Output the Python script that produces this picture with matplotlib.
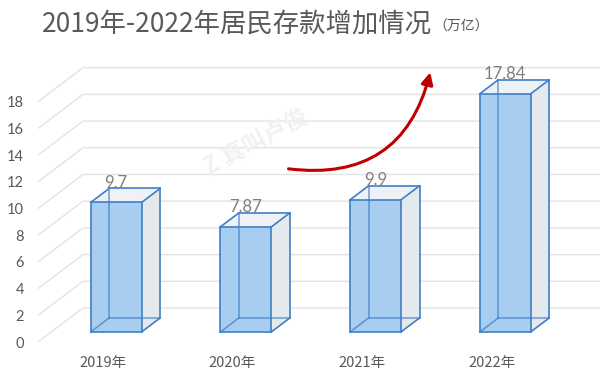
import matplotlib.pyplot as plt
from matplotlib.patches import Polygon, FancyArrowPatch

years = ['2019年', '2020年', '2021年', '2022年']
values = [9.7, 7.87, 9.9, 17.84]
value_labels = ['9.7', '7.87', '9.9', '17.84']
yticks = list(range(0, 20, 2))

# red trend arrow (data coords) and watermark position
arrow_start = (1.41, 13.0)
arrow_end = (2.53, 20.4)
mark_pos = (1.18, 15.0)

# fake 3d: depth of the floor, where the bars sit inside it, bar width
DX, DY = 0.347, 2.55
F0, F1 = 0.294, 0.706
W = 0.393

EDGE = '#3f7fc6'
FRONT = '#a7cdf1'
SIDE = '#e4e9ee'
TOP = '#eef2f6'
GRID = '#e3e3e3'
TXT = '#595959'


def box(ax, i, h):
    ox0, oy0 = F0 * DX, F0 * DY
    ox1, oy1 = F1 * DX, F1 * DY
    x0, x1 = i - W / 2, i + W / 2
    fbl, fbr = (x0 + ox0, oy0), (x1 + ox0, oy0)
    ftl, ftr = (x0 + ox0, h + oy0), (x1 + ox0, h + oy0)
    bbl, bbr = (x0 + ox1, oy1), (x1 + ox1, oy1)
    btl, btr = (x0 + ox1, h + oy1), (x1 + ox1, h + oy1)

    ax.add_patch(Polygon([fbr, bbr, btr, ftr], closed=True, fc=SIDE, ec='none', zorder=3))
    ax.add_patch(Polygon([ftl, ftr, btr, btl], closed=True, fc=TOP, ec='none', zorder=3))
    ax.add_patch(Polygon([fbl, fbr, ftr, ftl], closed=True, fc=FRONT, ec='none', zorder=4))

    hidden = [(bbl, btl), (bbl, bbr), (fbl, bbl)]
    for a, b in hidden:
        ax.plot([a[0], b[0]], [a[1], b[1]], color=EDGE, lw=1.1, alpha=0.75, zorder=5)
    shown = [(fbl, fbr), (fbr, ftr), (ftr, ftl), (ftl, fbl),
             (ftl, btl), (btl, btr), (btr, ftr), (btr, bbr), (bbr, fbr)]
    for a, b in shown:
        ax.plot([a[0], b[0]], [a[1], b[1]], color=EDGE, lw=1.2, zorder=6,
                solid_capstyle='round')
    return ((x0 + x1) / 2 + ox0, h + oy1)


def main():
    fig = plt.figure(figsize=(6, 3.88), dpi=100)
    ax = fig.add_axes([38 / 600, 46 / 388, 562 / 600, 292 / 388])
    ax.set_xlim(-0.5, -0.5 + 562 / 129.7)
    ax.set_ylim(0, 292 / 13.35)

    # grid: short diagonal on the side wall, then flat along the back wall
    for v in yticks:
        ax.plot([-0.5, -0.5 + DX, 5], [v, v + DY, v + DY], color=GRID, lw=1.0, zorder=1)

    for i, (h, lab) in enumerate(zip(values, value_labels)):
        cx, ty = box(ax, i, h)
        ax.text(cx, ty + 0.05, lab, ha='center', va='baseline', fontsize=12,
                color='#7f7f7f', family=['Lato', 'DejaVu Sans'], zorder=7)

    ax.set_yticks(yticks)
    ax.set_yticklabels([str(t) for t in yticks], fontsize=10.5, color=TXT,
                       family=['Lato', 'DejaVu Sans'])
    ax.set_xticks(range(len(years)))
    ax.set_xticklabels(years, fontsize=10.5, color=TXT,
                       family=['Noto Sans CJK SC', 'DejaVu Sans'])
    ax.tick_params(axis='y', length=0, pad=10)
    ax.tick_params(axis='x', length=0, pad=10)
    for s in ax.spines.values():
        s.set_visible(False)

    ax.text(*mark_pos, 'Z 真叫卢俊', rotation=28, ha='center', va='center',
            fontsize=17, fontweight='bold', color='#f1f1f1',
            family=['Noto Sans CJK SC', 'DejaVu Sans'], zorder=2)

    arr = FancyArrowPatch(arrow_start, arrow_end, connectionstyle='arc3,rad=0.45',
                          arrowstyle='-|>,head_length=7,head_width=3.5',
                          color='#c00000', lw=2.2, zorder=8)
    ax.add_patch(arr)

    fig.text(42 / 600, 1 - 32 / 388, '2019年-2022年居民存款增加情况', fontsize=19,
             color=TXT, ha='left', va='baseline', family=['Noto Sans CJK SC', 'DejaVu Sans'])
    fig.text(433 / 600, 1 - 31 / 388, '（万亿）', fontsize=10, color=TXT,
             ha='left', va='baseline', family=['Noto Sans CJK SC', 'DejaVu Sans'])

    fig.savefig('out.png', dpi=100)


if __name__ == '__main__':
    main()
